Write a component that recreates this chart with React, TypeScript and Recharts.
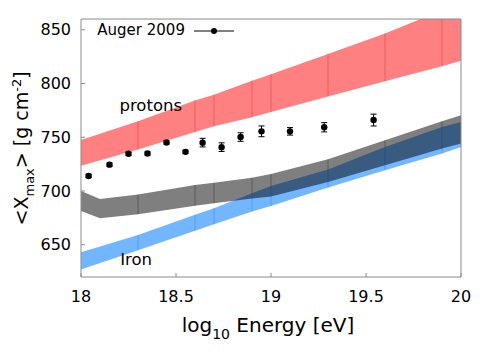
import {
  ComposedChart,
  XAxis,
  YAxis,
  Area,
  Scatter,
  ErrorBar,
  ReferenceLine,
  ReferenceDot,
} from "recharts";

// Xmax predictions, log10(E/eV)
const bandEnergy = [18, 18.3, 18.6, 18.7, 18.9, 19.0, 19.3, 19.6, 19.9, 20];
const protonHigh = [747.5, 764.8, 784.3, 789.6, 802.6, 808.5, 827.5, 846.6, 868, 875];
const protonLow = [723.4, 738.6, 754.9, 760.2, 768.5, 773.5, 788, 802, 816, 821.2];
const ironHigh = [643, 659, 678, 684, 698, 704.6, 720, 741, 759.6, 764.2];
const ironLow = [627, 645, 663, 669, 681, 686, 703.3, 719.4, 735, 741];

const mixEnergy = [18, 18.1, 18.3, 18.6, 18.7, 18.9, 19.0, 19.3, 19.6, 19.9, 20];
const mixHigh = [700, 692.6, 696.8, 705.6, 707.6, 712.4, 715.7, 729.6, 747.2, 764.8, 770.4];
const mixLow = [681.4, 674.6, 678.3, 686.3, 688.5, 693, 695, 708.3, 724, 739.5, 744.2];

// Auger 2009 measurements
const augerEnergy = [18.04, 18.15, 18.25, 18.35, 18.45, 18.55, 18.64, 18.74, 18.84, 18.95, 19.1, 19.28, 19.54];
const augerXmax = [714, 724.5, 734.6, 734.9, 745.1, 736.4, 745, 740.8, 750.2, 755.5, 755.5, 759.3, 766];
const augerError = [1.5, 1.5, 1.5, 1.5, 1.5, 1.5, 4, 4, 4, 5, 3.5, 4.3, 5.5];

const xTicks = [18, 18.5, 19, 19.5, 20];
const yTicks = [650, 700, 750, 800, 850];

const FONT = "'DejaVu Sans', sans-serif";
const FRAME = "#8a8a8a";

const bandRows = mixEnergy.map((energy, i) => {
  const j = bandEnergy.indexOf(energy);
  return {
    energy,
    mix: [mixLow[i], mixHigh[i]],
    proton: j >= 0 ? [protonLow[j], protonHigh[j]] : null,
    iron: j >= 0 ? [ironLow[j], ironHigh[j]] : null,
  };
});

const augerRows = augerEnergy.map((energy, i) => ({
  energy,
  xmax: augerXmax[i],
  err: augerError[i],
}));

const innerEdges = bandEnergy.slice(1, -1);

const Dot = (props: any) => <circle cx={props.cx} cy={props.cy} r={3.2} fill="#000" />;

const YTitle = () => (
  <text transform="translate(20,140.4) rotate(-90)" textAnchor="middle" fontSize={19} fill="#000" fontFamily={FONT}>
    {"<X"}
    <tspan fontSize={13} dy={6}>max</tspan>
    <tspan dy={-6}>{"> [g cm"}</tspan>
    <tspan fontSize={13} dy={-7.5}>-2</tspan>
    <tspan dy={7.5}>]</tspan>
  </text>
);

const XTitle = () => (
  <text x={260} y={323.7} textAnchor="middle" fontSize={20} fill="#000" fontFamily={FONT}>
    log
    <tspan fontSize={14} dy={7}>10</tspan>
    <tspan dy={-7}> Energy [eV]</tspan>
  </text>
);

export default function App() {
  const tickStyle = { fill: "#000", fontSize: 16, fontFamily: FONT };
  return (
    <div style={{ position: "relative", width: 484, height: 345, fontFamily: FONT }}>
      <ComposedChart
        width={484}
        height={345}
        data={bandRows}
        margin={{ top: 10, right: 30, bottom: 0, left: 0 }}
      >
        <XAxis
          dataKey="energy"
          type="number"
          domain={[18, 20]}
          ticks={xTicks}
          height={76}
          tickSize={-4}
          tickMargin={18}
          tick={tickStyle}
          stroke={FRAME}
          label={<XTitle />}
        />
        <XAxis
          xAxisId="top"
          orientation="top"
          dataKey="energy"
          type="number"
          domain={[18, 20]}
          ticks={xTicks}
          height={1}
          tickSize={-4}
          tick={false}
          stroke={FRAME}
        />
        <YAxis
          type="number"
          domain={[620, 860]}
          ticks={yTicks}
          allowDataOverflow
          width={73}
          tickSize={-4}
          tickMargin={14}
          tick={tickStyle}
          stroke={FRAME}
          label={<YTitle />}
        />
        <YAxis
          yAxisId="r"
          orientation="right"
          type="number"
          domain={[620, 860]}
          ticks={yTicks}
          width={1}
          tickSize={-4}
          tick={false}
          stroke={FRAME}
        />

        <Area
          dataKey="proton"
          type="linear"
          connectNulls
          stroke="none"
          fill="#ff8080"
          fillOpacity={1}
          isAnimationActive={false}
        />
        <Area
          dataKey="iron"
          type="linear"
          connectNulls
          stroke="none"
          fill="#72b6ff"
          fillOpacity={1}
          isAnimationActive={false}
        />
        <Area
          dataKey="mix"
          type="linear"
          stroke="none"
          fill="#000"
          fillOpacity={0.5}
          isAnimationActive={false}
        />

        {innerEdges.map((e) => {
          const j = bandEnergy.indexOf(e);
          const k = mixEnergy.indexOf(e);
          return [
            <ReferenceLine
              key={`p${e}`}
              segment={[{ x: e, y: protonLow[j] }, { x: e, y: protonHigh[j] }]}
              stroke="#e03030"
              strokeOpacity={0.45}
              ifOverflow="hidden"
            />,
            <ReferenceLine
              key={`i${e}`}
              segment={[{ x: e, y: ironLow[j] }, { x: e, y: ironHigh[j] }]}
              stroke="#2f86e8"
              strokeOpacity={0.5}
              ifOverflow="hidden"
            />,
            <ReferenceLine
              key={`m${e}`}
              segment={[{ x: e, y: mixLow[k] }, { x: e, y: mixHigh[k] }]}
              stroke="#000"
              strokeOpacity={0.3}
              ifOverflow="hidden"
            />,
          ];
        })}

        <ReferenceDot
          x={18.367}
          y={780.3}
          r={0}
          fill="none"
          stroke="none"
          label={{ value: "protons", position: "center", fontSize: 16.5, fill: "#000", fontFamily: FONT }}
        />
        <ReferenceDot
          x={18.29}
          y={636.5}
          r={0}
          fill="none"
          stroke="none"
          label={{ value: "Iron", position: "center", fontSize: 16.5, fill: "#000", fontFamily: FONT }}
        />

        <Scatter
          data={augerRows}
          dataKey="xmax"
          fill="#000"
          shape={Dot}
          isAnimationActive={false}
        >
          <ErrorBar dataKey="err" direction="y" width={3} stroke="#000" strokeWidth={1} />
        </Scatter>
      </ComposedChart>

      <svg
        width={484}
        height={345}
        style={{ position: "absolute", left: 0, top: 0, pointerEvents: "none" }}
      >
        <text x={89.3} y={27} fontSize={15} fill="#000" fontFamily={FONT}>
          Auger 2009
        </text>
        <line x1={186} x2={226} y1={23} y2={23} stroke="#000" strokeWidth={1} />
        <circle cx={206} cy={23} r={3} fill="#000" />
      </svg>
    </div>
  );
}
